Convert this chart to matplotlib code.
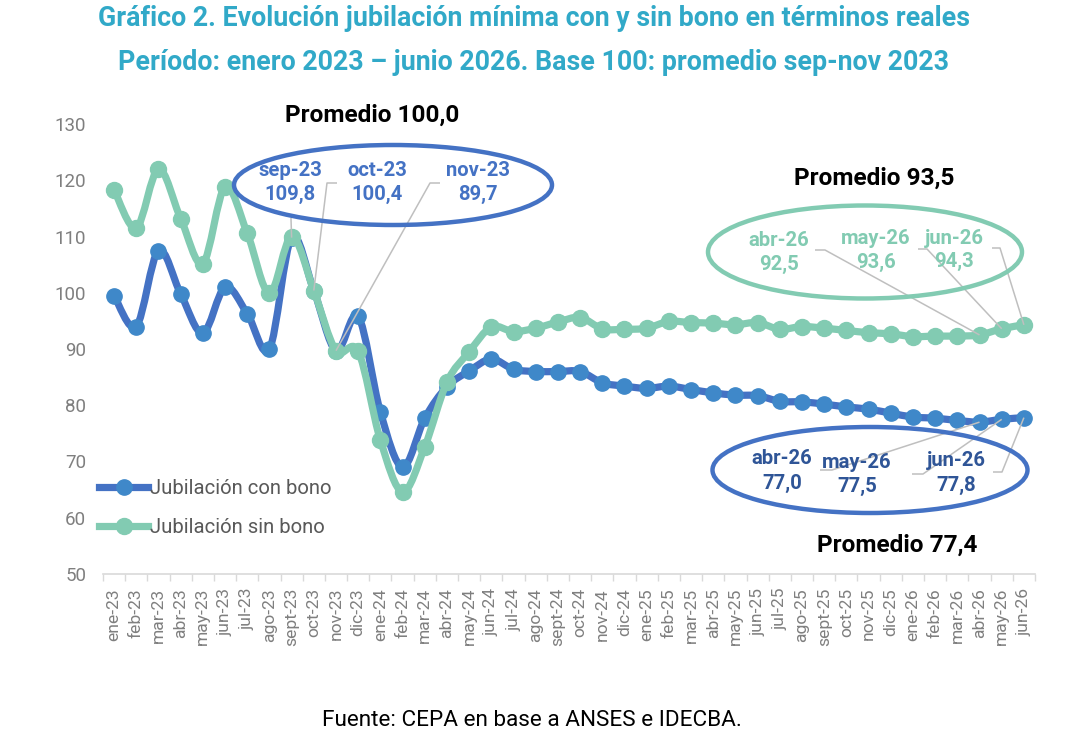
import matplotlib
matplotlib.use("Agg")
import matplotlib.pyplot as plt
from matplotlib.patches import Ellipse, PathPatch
from matplotlib.path import Path
from matplotlib.lines import Line2D

plt.rcParams['font.family'] = ['Roboto', 'DejaVu Sans']

# ---- data ----
meses = ["ene-23", "feb-23", "mar-23", "abr-23", "may-23", "jun-23", "jul-23", "ago-23",
         "sept-23", "oct-23", "nov-23", "dic-23",
         "ene-24", "feb-24", "mar-24", "abr-24", "may-24", "jun-24", "jul-24", "ago-24",
         "sept-24", "oct-24", "nov-24", "dic-24",
         "ene-25", "feb-25", "mar-25", "abr-25", "may-25", "jun-25", "jul-25", "ago-25",
         "sept-25", "oct-25", "nov-25", "dic-25",
         "ene-26", "feb-26", "mar-26", "abr-26", "may-26", "jun-26"]

con_bono = [99.5, 94.0, 107.5, 99.8, 92.8, 101.0, 96.3, 90.0, 109.8, 100.4, 89.7, 95.8,
            78.8, 69.0, 77.7, 83.3, 86.1, 88.2, 86.4, 86.0, 86.0, 86.0, 84.0, 83.4,
            83.0, 83.4, 82.8, 82.2, 81.8, 81.7, 80.7, 80.6, 80.2, 79.7, 79.3, 78.6,
            77.9, 77.7, 77.3, 77.0, 77.5, 77.8]

sin_bono = [118.3, 111.5, 122.0, 113.2, 105.2, 118.8, 110.6, 99.9, 110.0, 100.4, 89.7, 89.6,
            73.8, 64.6, 72.6, 84.1, 89.5, 93.9, 93.1, 93.7, 94.8, 95.6, 93.6, 93.5,
            93.7, 94.9, 94.7, 94.6, 94.3, 94.7, 93.5, 94.0, 93.7, 93.3, 92.9, 92.7,
            92.2, 92.3, 92.3, 92.5, 93.6, 94.3]

y_ticks = [50, 60, 70, 80, 90, 100, 110, 120, 130]

titulo1 = "Gráfico 2. Evolución jubilación mínima con y sin bono en términos reales"
titulo2 = "Período: enero 2023 – junio 2026. Base 100: promedio sep-nov 2023"
fuente = "Fuente: CEPA en base a ANSES e IDECBA."

# ---- style ----
C_BLUE_LINE = "#4472C4"
C_BLUE_MK = "#3F88C9"
C_GREEN = "#82CBB2"
C_DARKBLUE = "#2F5597"
C_TITLE = "#31A9C8"
C_GRAY = "#7F7F7F"
C_LEADER = "#BFBFBF"
LW, MS_B, MS_G = 5.2, 11, 11.5

W, H = 1079, 749
fig = plt.figure(figsize=(W / 100, H / 100), dpi=100)
L, R, T, B = 103, 1035, 124, 574
ax = fig.add_axes([L / W, 1 - B / H, (R - L) / W, (B - T) / H])

x = list(range(len(meses)))


def smooth_path(xs, ys):
    """Excel-style smoothed line: cubic Bezier segments through the data points."""
    n = len(xs)
    verts = [(xs[0], ys[0])]
    codes = [Path.MOVETO]
    for i in range(n - 1):
        x0, y0 = (xs[i - 1], ys[i - 1]) if i > 0 else (xs[i], ys[i])
        x1, y1 = xs[i], ys[i]
        x2, y2 = xs[i + 1], ys[i + 1]
        x3, y3 = (xs[i + 2], ys[i + 2]) if i + 2 < n else (xs[i + 1], ys[i + 1])
        c1 = (x1 + (x2 - x0) / 6, y1 + (y2 - y0) / 6)
        c2 = (x2 - (x3 - x1) / 6, y2 - (y3 - y1) / 6)
        verts += [c1, c2, (x2, y2)]
        codes += [Path.CURVE4] * 3
    return Path(verts, codes)


ax.add_patch(PathPatch(smooth_path(x, con_bono), fill=False, ec=C_BLUE_LINE, lw=LW,
                       zorder=3, capstyle='round', joinstyle='round'))
ax.plot(x, con_bono, ls='none', marker='o', ms=MS_B, mfc=C_BLUE_MK, mec=C_BLUE_MK, zorder=3.5)
ax.add_patch(PathPatch(smooth_path(x, sin_bono), fill=False, ec=C_GREEN, lw=LW,
                       zorder=4, capstyle='round', joinstyle='round'))
ax.plot(x, sin_bono, ls='none', marker='o', ms=MS_G, mfc=C_GREEN, mec=C_GREEN, zorder=4.5)

ax.set_xlim(-0.5, len(meses) - 0.5)
ax.set_ylim(50, 130)
ax.set_yticks(y_ticks)
ax.set_yticklabels([str(v) for v in y_ticks], color=C_GRAY, fontsize=13.5)
ax.tick_params(axis='y', length=0, pad=12)

ax.set_xticks(x)
ax.set_xticklabels(meses, rotation=90, color=C_GRAY, fontsize=12.6)
ax.set_xticks([i + 0.5 for i in range(-1, len(meses))], minor=True)
ax.tick_params(axis='x', which='major', length=0, pad=10)
ax.tick_params(axis='x', which='minor', length=5, color="#D9D9D9", width=1)

for s in ['top', 'right', 'left']:
    ax.spines[s].set_visible(False)
ax.spines['bottom'].set_color("#D9D9D9")
ax.spines['bottom'].set_linewidth(1.2)


def px2d(px, py):
    return ((px - L) / ((R - L) / len(meses)) - 0.5, 130 - (py - T) / ((B - T) / 80))


def ell(cx, cy, w, h, color):
    dx, dy = px2d(cx, cy)
    e = Ellipse((dx, dy), w / ((R - L) / len(meses)), h / ((B - T) / 80),
                fill=False, ec=color, lw=3.2, zorder=6, clip_on=False)
    ax.add_patch(e)


ell(393, 185, 318, 80, C_BLUE_LINE)
ell(865, 252, 314, 93, C_GREEN)
ell(870, 470, 315, 86, C_BLUE_LINE)


def lbl(px, py, text, color, size=14.6):
    dx, dy = px2d(px, py)
    ax.text(dx, dy, text, color=color, fontsize=size, fontweight='bold',
            ha='center', va='center', zorder=7)


def leader(p1, p2, idx, series):
    a = px2d(*p1)
    b = px2d(*p2)
    ax.plot([a[0], b[0], idx], [a[1], b[1], series[idx]], color=C_LEADER,
            lw=1.1, zorder=5, solid_capstyle='butt')


# top blue labels (con bono sep-nov 23)
for px, lab, idx in [(290, "sep-23", 8), (377, "oct-23", 9), (478, "nov-23", 10)]:
    lbl(px, 171, lab, C_BLUE_LINE)
    lbl(px, 194, f"{con_bono[idx]:.1f}".replace('.', ','), C_BLUE_LINE)
leader((291, 218), (291, 219), 8, con_bono)
leader((337, 183), (327, 183), 9, con_bono)
leader((440, 183), (430, 183), 10, con_bono)

# green labels
for px, py, lab, idx in [(779, 241, "abr-26", 39), (876, 239, "may-26", 40), (954, 238, "jun-26", 41)]:
    lbl(px, py, lab, C_GREEN)
    lbl(px, py + 23, f"{sin_bono[idx]:.1f}".replace('.', ','), C_GREEN)
leader((815, 250), (825, 250), 39, sin_bono)
leader((918, 249), (927, 249), 40, sin_bono)
leader((992, 248), (1000, 248), 41, sin_bono)

# bottom blue labels
for px, py, lab, idx in [(782, 459, "abr-26", 39), (857, 462, "may-26", 40), (956, 461, "jun-26", 41)]:
    lbl(px, py, lab, C_DARKBLUE)
    lbl(px, py + 24, f"{con_bono[idx]:.1f}".replace('.', ','), C_DARKBLUE)
leader((820, 470), (832, 470), 39, con_bono)
leader((912, 474), (923, 474), 40, con_bono)
leader((993, 472), (1002, 472), 41, con_bono)

# promedios
for px, py, t in [(372, 115, "Promedio 100,0"), (874, 178, "Promedio 93,5"), (897, 545, "Promedio 77,4")]:
    fig.text(px / W, 1 - py / H, t, fontsize=17.6, fontweight='bold', color='black',
             ha='center', va='center')

handles = [Line2D([], [], color=C_BLUE_LINE, lw=LW, marker='o', ms=MS_B,
                  mfc=C_BLUE_MK, mec=C_BLUE_MK),
           Line2D([], [], color=C_GREEN, lw=LW, marker='o', ms=MS_G,
                  mfc=C_GREEN, mec=C_GREEN)]
leg = ax.legend(handles, ["Jubilación con bono", "Jubilación sin bono"],
                loc='upper left', bbox_to_anchor=(-0.004, 0.212), frameon=False,
                fontsize=14.6, handlelength=2.4, handletextpad=0.1, labelspacing=1.0,
                borderpad=0, borderaxespad=0)
for t in leg.get_texts():
    t.set_color("#595959")

fig.text(534 / W, 1 - 18 / H, titulo1, fontsize=19.3, fontweight='bold', color=C_TITLE,
         ha='center', va='center')
fig.text(534 / W, 1 - 62 / H, titulo2, fontsize=19.3, fontweight='bold', color=C_TITLE,
         ha='center', va='center')
fig.text(532 / W, 1 - 720 / H, fuente, fontsize=16.2, color='black', ha='center', va='center')

fig.savefig("out.png", dpi=100)
